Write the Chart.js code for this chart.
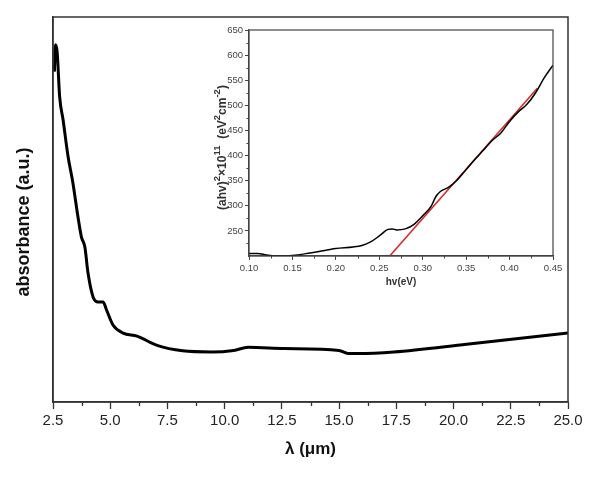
<!DOCTYPE html>
<html>
<head>
<meta charset="utf-8">
<script src="https://cdn.jsdelivr.net/npm/chart.js@4"></script>
<style>
  html, body { margin: 0; padding: 0; background: #fff; }
  #wrap { position: relative; width: 600px; height: 479px; }
  #main { position: absolute; left: 0; top: 0; }
  #inset { position: absolute; left: 200px; top: 20px; }
</style>
</head>
<body>
<div id="wrap">
  <canvas id="main" width="600" height="479"></canvas>
  <canvas id="inset" width="370" height="270"></canvas>
</div>
<script>
// ---- Main spectrum data (wavelength in µm, absorbance in arbitrary units) ----
const lambdaUm = [2.56, 2.61, 2.68, 2.79, 2.94, 3.16, 3.37, 3.59, 3.74, 3.89, 4.03, 4.25, 4.47, 4.69, 4.84,
                  5.12, 5.56, 6.17, 7.05, 8.16, 9.43, 10.39, 11.02, 12.61, 15.0, 15.39, 15.78, 17.39, 20.57, 25.0];
const absorbance = [85.8, 92.8, 91.0, 79.3, 73.3, 63.7, 56.9, 48.1, 42.9, 40.3, 33.5, 27.3, 26.0, 26.0, 23.9,
                    20.0, 17.9, 17.1, 14.7, 13.3, 13.0, 13.4, 14.2, 13.9, 13.4, 12.6, 12.6, 13.0, 15.0, 17.95];
const mainXTicks = [2.5, 5.0, 7.5, 10.0, 12.5, 15.0, 17.5, 20.0, 22.5, 25.0];
const mainXMinor = [3.75, 6.25, 8.75, 11.25, 13.75, 16.25, 18.75, 21.25, 23.75];

// ---- Inset Tauc plot data ----
const hv  = [0.100, 0.110, 0.120, 0.130, 0.150, 0.170, 0.190, 0.200, 0.220, 0.230, 0.240, 0.250, 0.260, 0.265,
             0.270, 0.280, 0.290, 0.300, 0.310, 0.315, 0.320, 0.330, 0.340, 0.350, 0.360, 0.370, 0.380, 0.390,
             0.400, 0.410, 0.420, 0.430, 0.440, 0.450];
const ahv2 = [205, 205, 202, 200, 201, 206, 212, 215, 218, 221, 228, 240, 253, 254,
              252, 254, 263, 280, 300, 318, 328, 337, 352, 372, 392, 411, 430, 445,
              468, 487, 502, 525, 555, 580];
const fitHv  = [0.262, 0.432];
const fitAhv = [200, 534];
const insetXTicks = [0.10, 0.15, 0.20, 0.25, 0.30, 0.35, 0.40, 0.45];
const insetXMinor = [0.125, 0.175, 0.225, 0.275, 0.325, 0.375, 0.425];
const insetYTicks = [250, 300, 350, 400, 450, 500, 550, 600, 650];
const insetYMinor = [225, 275, 325, 375, 425, 475, 525, 575, 625];

const FONT = "'Liberation Sans', Arial, sans-serif";

const frameMinor = {
  id: 'frameMinor',
  afterDraw(chart, args, o) {
    const {ctx, chartArea: a, scales} = chart;
    ctx.save();
    ctx.strokeStyle = o.color;
    ctx.lineWidth = o.width;
    ctx.strokeRect(a.left, a.top, a.right - a.left, a.bottom - a.top);
    ctx.lineWidth = o.tickWidth;
    ctx.beginPath();
    (o.minorX || []).forEach(v => {
      const px = Math.round(scales.x.getPixelForValue(v)) + 0.5;
      ctx.moveTo(px, a.bottom); ctx.lineTo(px, a.bottom + o.minorLen);
    });
    (o.minorY || []).forEach(v => {
      const py = Math.round(scales.y.getPixelForValue(v)) + 0.5;
      ctx.moveTo(a.left, py); ctx.lineTo(a.left - o.minorLen, py);
    });
    ctx.stroke();
    // rotated y title
    if (o.yTitle) {
      const t = o.yTitle;
      ctx.translate(t.x, t.y);
      ctx.rotate(-Math.PI / 2);
      ctx.fillStyle = t.color;
      ctx.textBaseline = 'alphabetic';
      let total = 0;
      t.parts.forEach(p => {
        ctx.font = 'bold ' + (p.sup ? t.supSize : t.size) + 'px ' + FONT;
        total += ctx.measureText(p.text).width;
      });
      let x = -total / 2;
      t.parts.forEach(p => {
        ctx.font = 'bold ' + (p.sup ? t.supSize : t.size) + 'px ' + FONT;
        ctx.fillText(p.text, x, t.base - (p.sup ? t.raise : 0));
        x += ctx.measureText(p.text).width;
      });
    }
    ctx.restore();
  }
};

new Chart(document.getElementById('main'), {
  type: 'scatter',
  data: {
    datasets: [{
      data: lambdaUm.map((x, i) => ({x, y: absorbance[i]})),
      showLine: true,
      borderColor: '#000',
      borderWidth: 3,
      pointRadius: 0,
      cubicInterpolationMode: 'monotone',
      fill: false
    }]
  },
  options: {
    responsive: false,
    animation: false,
    layout: {padding: {left: 0, top: 17, right: 32, bottom: 0}},
    plugins: {
      legend: {display: false},
      tooltip: {enabled: false},
      frameMinor: {
        color: '#333', width: 1.5, tickWidth: 1.3, minorLen: 4,
        minorX: mainXMinor,
        yTitle: {x: 22, y: 222, base: 6.5, size: 18, supSize: 18, raise: 0, color: '#111',
                 parts: [{text: 'absorbance (a.u.)'}]}
      }
    },
    scales: {
      x: {
        type: 'linear', min: 2.5, max: 25,
        afterBuildTicks: s => { s.ticks = mainXTicks.map(v => ({value: v})); },
        afterFit: s => { s.height = 77; },
        ticks: {
          font: {family: FONT, size: 15}, color: '#222', padding: 3, maxRotation: 0,
          callback: v => Number(v).toFixed(1)
        },
        grid: {drawOnChartArea: false, drawTicks: true, tickLength: 7, tickColor: '#333', tickWidth: 1.3},
        border: {display: true, color: '#333', width: 1.5},
        title: {display: true, text: 'λ (μm)', font: {family: FONT, size: 17, weight: 'bold'},
                color: '#111', padding: {top: 0, bottom: 19}}
      },
      y: {
        type: 'linear', min: 0, max: 100,
        afterFit: s => { s.width = 53; },
        ticks: {display: false},
        grid: {display: false},
        border: {display: true, color: '#333', width: 1.5}
      }
    }
  },
  plugins: [frameMinor]
});

new Chart(document.getElementById('inset'), {
  type: 'scatter',
  data: {
    datasets: [{
      data: hv.map((x, i) => ({x, y: ahv2[i]})),
      showLine: true, borderColor: '#000', borderWidth: 1.5, pointRadius: 0,
      cubicInterpolationMode: 'monotone', fill: false
    }, {
      data: fitHv.map((x, i) => ({x, y: fitAhv[i]})),
      showLine: true, borderColor: '#d42a2a', borderWidth: 1.6, pointRadius: 0, fill: false
    }]
  },
  options: {
    responsive: false,
    animation: false,
    layout: {padding: {left: 0, top: 10, right: 17, bottom: 0}},
    plugins: {
      legend: {display: false},
      tooltip: {enabled: false},
      frameMinor: {
        color: '#444', width: 1.2, tickWidth: 1, minorLen: 2.5,
        minorX: insetXMinor, minorY: insetYMinor,
        yTitle: {x: 25, y: 127.5, base: 0.5, size: 12, supSize: 9.5, raise: 6, color: '#333',
                 parts: [{text: '(ahv)'}, {text: '2', sup: true}, {text: '×10'}, {text: '11', sup: true},
                         {text: '  (eV'}, {text: '2', sup: true}, {text: 'cm'}, {text: '-2', sup: true}, {text: ')'}]}
      }
    },
    scales: {
      x: {
        type: 'linear', min: 0.1, max: 0.45,
        afterBuildTicks: s => { s.ticks = insetXTicks.map(v => ({value: v})); },
        afterFit: s => { s.height = 34; },
        ticks: {font: {family: FONT, size: 9.5}, color: '#444', padding: 3, maxRotation: 0,
                callback: v => Number(v).toFixed(2)},
        grid: {drawOnChartArea: false, drawTicks: true, tickLength: 4, tickColor: '#444', tickWidth: 1},
        border: {display: true, color: '#444', width: 1.2},
        title: {display: true, text: 'hv(eV)', font: {family: FONT, size: 10, weight: 'bold'},
                color: '#333', padding: {top: 0, bottom: 2}}
      },
      y: {
        type: 'linear', min: 200, max: 650,
        afterBuildTicks: s => { s.ticks = insetYTicks.map(v => ({value: v})); },
        afterFit: s => { s.width = 49; },
        ticks: {font: {family: FONT, size: 9.5}, color: '#444', padding: 2},
        grid: {drawOnChartArea: false, drawTicks: true, tickLength: 4, tickColor: '#444', tickWidth: 1},
        border: {display: true, color: '#444', width: 1.2}
      }
    }
  },
  plugins: [frameMinor]
});
</script>
</body>
</html>
